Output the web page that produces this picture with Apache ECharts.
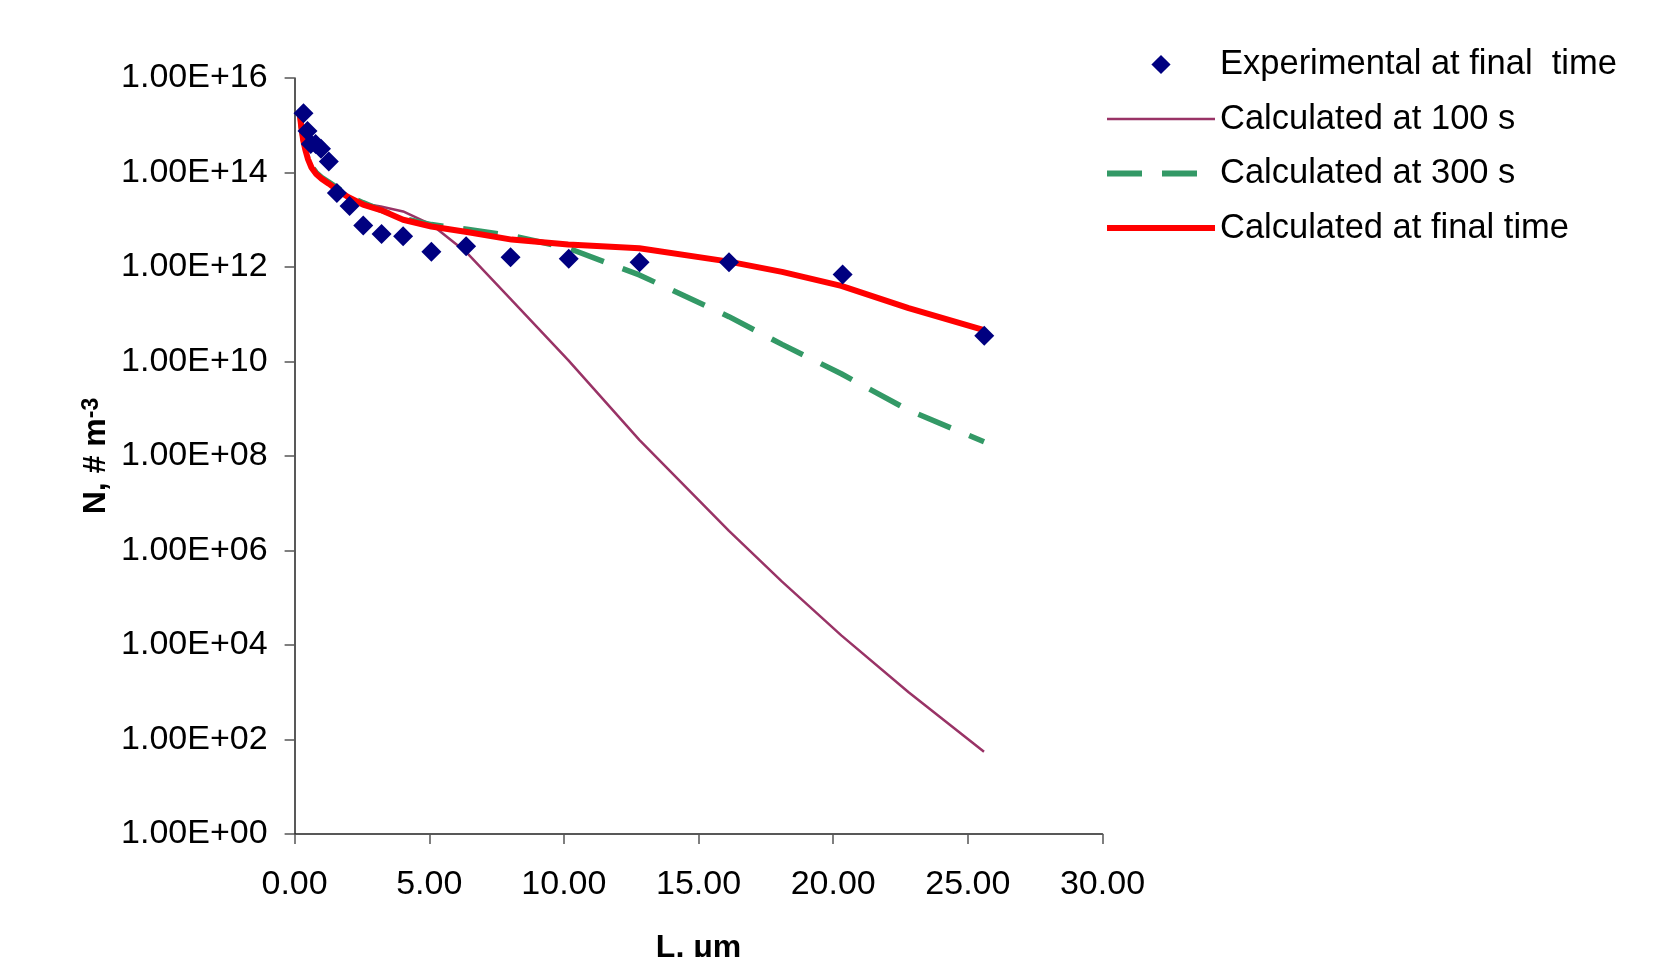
<!DOCTYPE html>
<html>
<head>
<meta charset="utf-8">
<script src="https://cdn.jsdelivr.net/npm/echarts@6/dist/echarts.min.js"></script>
<style>
  html, body { margin: 0; padding: 0; background: #fff; }
  #box { width: 1656px; height: 957px; }
</style>
</head>
<body>
<div id="box"></div>
<script>
// particle size L (um) of the calculated curves
var calcSizes = [0.2, 0.25, 0.32, 0.4, 0.5, 0.63, 0.8, 1.0, 1.27, 1.6, 2.0, 2.54, 3.2, 4.03, 5.08, 6.4, 8.06, 10.16, 12.8, 16.13, 18.1, 20.3, 22.8, 25.6];
// N, # m-3
var calc100 = [1.6e15, 8.9e14, 4.8e14, 3.0e14, 1.9e14, 1.26e14, 9.3e13, 7.4e13, 5.8e13, 4.2e13, 3.0e13, 2.2e13, 1.9e13, 1.5e13, 7.9e12, 2.0e12, 2.0e11, 1.07e10, 2.2e8, 2.6e6, 2.2e5, 1.6e4, 1.0e3, 55];
var calc300 = [1.6e15, 9.3e14, 5.0e14, 3.2e14, 2.0e14, 1.35e14, 1.0e14, 7.9e13, 6.3e13, 4.7e13, 3.2e13, 2.3e13, 1.6e13, 1.07e13, 7.9e12, 6.3e12, 4.6e12, 2.5e12, 6.8e11, 8.9e10, 2.3e10, 5.5e9, 9.3e8, 2.0e8];
var calcFinal = [1.6e15, 8.9e14, 4.8e14, 3.0e14, 1.9e14, 1.26e14, 9.3e13, 7.4e13, 5.8e13, 4.2e13, 3.0e13, 2.1e13, 1.6e13, 1.0e13, 7.2e12, 5.5e12, 3.8e12, 3.0e12, 2.5e12, 1.3e12, 7.9e11, 4.0e11, 1.35e11, 4.6e10];

var expSizes = [0.33, 0.48, 0.6, 0.78, 0.98, 1.27, 1.57, 2.04, 2.55, 3.23, 4.03, 5.08, 6.37, 8.02, 10.18, 12.81, 16.13, 20.35, 25.61];
var expFinal = [1.8e15, 7.6e14, 4.0e14, 4.0e14, 3.2e14, 1.7e14, 3.7e13, 1.95e13, 7.6e12, 5.0e12, 4.5e12, 2.1e12, 2.75e12, 1.6e12, 1.5e12, 1.26e12, 1.26e12, 6.9e11, 3.5e10];

var xTicks = [0, 5, 10, 15, 20, 25, 30];
var yExponents = [0, 2, 4, 6, 8, 10, 12, 14, 16];

var names = ['Experimental at final  time', 'Calculated at 100 s', 'Calculated at 300 s', 'Calculated at final time'];

// y axis is drawn in decades (log10 N)
function pairs(xs, ns) {
    return xs.map(function (x, i) { return [x, Math.log10(ns[i])]; });
}

var FONT = "'Liberation Sans', Arial, sans-serif";

var chart = echarts.init(document.getElementById('box'));
var option = {
    animation: false,
    textStyle: { fontFamily: FONT },
    grid: { left: 294.6, right: 553.5, top: 78, bottom: 123, outerBoundsMode: 'none', containLabel: false },
    legend: {
        orient: 'vertical',
        left: 1104,
        top: 47,
        padding: 0,
        itemWidth: 108,
        itemHeight: 24,
        itemGap: 19.5,
        data: [
            { name: names[0] },
            { name: names[1], itemStyle: { opacity: 0 }, lineStyle: { width: 2.5 } },
            { name: names[2], itemStyle: { opacity: 0 }, lineStyle: { width: 6 } },
            { name: names[3], itemStyle: { opacity: 0 }, lineStyle: { width: 6 } }
        ],
        textStyle: { fontSize: 34.5, color: '#000', lineHeight: 34, fontFamily: FONT }
    },
    xAxis: {
        type: 'value',
        min: xTicks[0],
        max: xTicks[xTicks.length - 1],
        interval: 5,
        name: 'L, μm',
        nameLocation: 'middle',
        nameGap: 98,
        nameTextStyle: { fontSize: 32, fontWeight: 'bold', color: '#000', fontFamily: FONT },
        axisLine: { lineStyle: { color: '#222', width: 1.5 } },
        axisTick: { show: true, length: 10, lineStyle: { color: '#555', width: 1.5 } },
        axisLabel: { fontSize: 34, color: '#000', margin: 34, formatter: function (v) { return v.toFixed(2); } },
        splitLine: { show: false }
    },
    yAxis: {
        type: 'value',
        min: yExponents[0],
        max: yExponents[yExponents.length - 1],
        interval: 2,
        name: '{b|N, # m}{s|-3}',
        nameLocation: 'middle',
        nameGap: 182,
        nameTextStyle: {
            color: '#000',
            rich: {
                b: { fontSize: 32, fontWeight: 'bold', color: '#000', fontFamily: FONT },
                s: { fontSize: 23, fontWeight: 'bold', color: '#000', fontFamily: FONT, verticalAlign: 'top' }
            }
        },
        axisLine: { show: true, lineStyle: { color: '#222', width: 1.5 } },
        axisTick: { show: true, length: 10, lineStyle: { color: '#555', width: 1.5 } },
        axisLabel: {
            fontSize: 34, color: '#000', margin: 27,
            formatter: function (v) { return '1.00E+' + (v < 10 ? '0' : '') + v; }
        },
        splitLine: { show: false }
    },
    series: [
        {
            name: names[0],
            type: 'line',
            data: pairs(expSizes, expFinal),
            symbol: 'diamond',
            symbolSize: 20,
            itemStyle: { color: '#000080' },
            lineStyle: { width: 0, opacity: 0 },
            z: 5
        },
        {
            name: names[1],
            type: 'line',
            data: pairs(calcSizes, calc100),
            symbol: 'none',
            itemStyle: { color: '#993366' },
            lineStyle: { color: '#993366', width: 2.5 },
            z: 2
        },
        {
            name: names[2],
            type: 'line',
            data: pairs(calcSizes, calc300),
            symbol: 'none',
            itemStyle: { color: '#339966' },
            lineStyle: { color: '#339966', width: 5.5, type: [35, 20] },
            z: 3
        },
        {
            name: names[3],
            type: 'line',
            data: pairs(calcSizes, calcFinal),
            symbol: 'none',
            itemStyle: { color: '#ff0000' },
            lineStyle: { color: '#ff0000', width: 6 },
            z: 4
        }
    ]
};
chart.setOption(option);
</script>
</body>
</html>
